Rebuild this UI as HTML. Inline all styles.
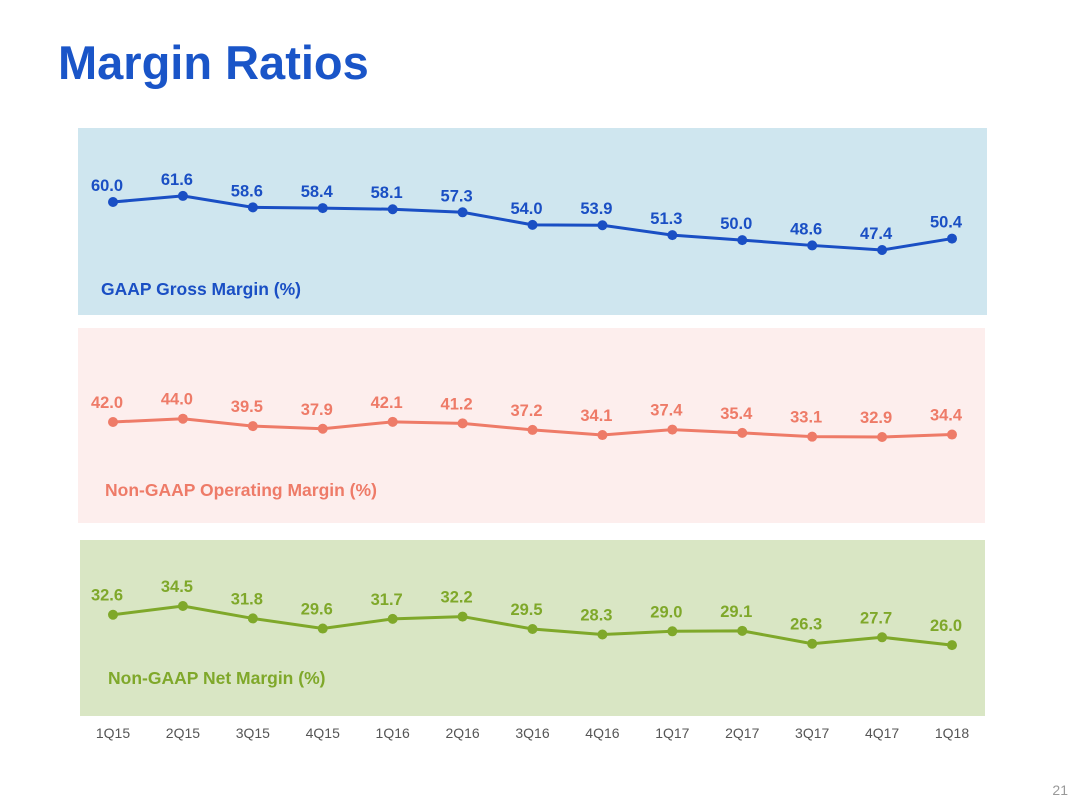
<!DOCTYPE html>
<html><head><meta charset="utf-8"><style>
body{margin:0;background:#fff;font-family:"Liberation Sans",Arial,sans-serif}
#wrap{position:relative;width:1080px;height:810px;overflow:hidden}
h1{position:absolute;left:58px;top:35px;margin:0;font-size:47px;font-weight:bold;color:#1a55c8}
</style></head><body>
<div id="wrap">
<h1>Margin Ratios</h1>
<svg id="chart" width="1080" height="810" style="position:absolute;left:0;top:0">
<rect x="78" y="128" width="909" height="187" fill="#cfe6ef"/>
<rect x="78" y="328" width="907" height="195" fill="#fdeeed"/>
<rect x="80" y="540" width="905" height="176" fill="#d9e6c4"/>
<text x="101" y="295" font-size="17.5" font-weight="bold" fill="#1a4fc4">GAAP Gross Margin (%)</text>
<text x="105" y="496" font-size="17.5" font-weight="bold" fill="#ee7b68">Non-GAAP Operating Margin (%)</text>
<text x="108" y="684" font-size="17.5" font-weight="bold" fill="#7fa82a">Non-GAAP Net Margin (%)</text>
<text x="1068" y="795" font-size="14" fill="#999" text-anchor="end">21</text>
</svg>
</div>
<script>
const categories=["1Q15","2Q15","3Q15","4Q15","1Q16","2Q16","3Q16","4Q16","1Q17","2Q17","3Q17","4Q17","1Q18"];
const grossMargin=[60.0,61.6,58.6,58.4,58.1,57.3,54.0,53.9,51.3,50.0,48.6,47.4,50.4];
const operatingMargin=[42.0,44.0,39.5,37.9,42.1,41.2,37.2,34.1,37.4,35.4,33.1,32.9,34.4];
const netMargin=[32.6,34.5,31.8,29.6,31.7,32.2,29.5,28.3,29.0,29.1,26.3,27.7,26.0];
const svg=document.getElementById('chart');
const NS='http://www.w3.org/2000/svg';
function xPos(i){return 113+i*(952-113)/(categories.length-1);}
function mk(tag,attrs){const e=document.createElementNS(NS,tag);for(const k in attrs)e.setAttribute(k,attrs[k]);svg.appendChild(e);return e;}
function series(vals,ref,refY,scale,color,name,lblOff){
  const y=v=>refY+(ref-v)*scale;
  const p=mk('polyline',{points:vals.map((v,i)=>xPos(i)+','+y(v)).join(' '),fill:'none',stroke:color,'stroke-width':3});
  
  
  vals.forEach((v,i)=>{
    const c=mk('circle',{cx:xPos(i),cy:y(v),r:5,fill:color});
    
    
    const t=mk('text',{x:xPos(i)-6,y:y(v)-lblOff,'font-size':16.5,'font-weight':'bold',fill:color,'text-anchor':'middle'});
    t.textContent=v.toFixed(1);
    
    
  });
}
series(grossMargin,60,202,3.81,'#1a4fc4','gross-margin',11);
series(operatingMargin,42,422,1.65,'#ee7b68','operating-margin',14);
series(netMargin,34.5,606,4.6,'#7fa82a','net-margin',14);
categories.forEach((c,i)=>{
  const t=mk('text',{x:xPos(i),y:738,'font-size':14,fill:'#555','text-anchor':'middle'});
  t.textContent=c;
  
  
});
</script>
</body></html>
